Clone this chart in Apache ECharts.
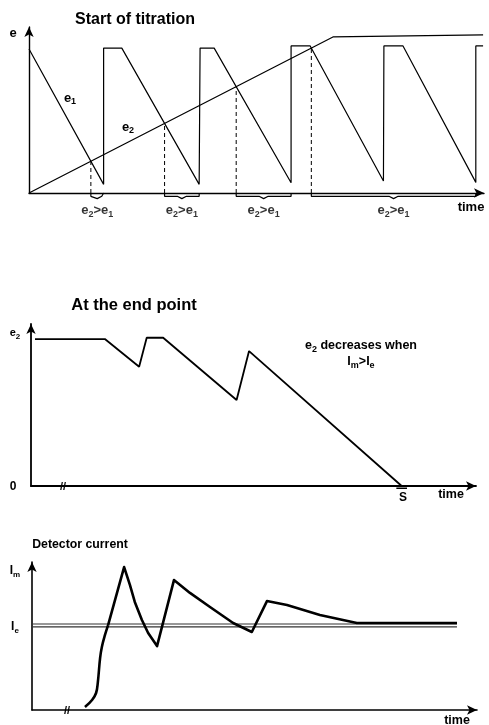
<!DOCTYPE html>
<html><head><meta charset="utf-8">
<script src="https://cdn.jsdelivr.net/npm/echarts@6/dist/echarts.min.js"></script>
<style>html,body{margin:0;padding:0;background:#fff}#c{width:489px;height:725px}</style>
</head><body><div id="c"></div>
<script>
// ---- Panel 1: Start of titration (arbitrary time / potential units)
const e1Time  = [0, 16.4, 16.4, 20.4, 37.4, 37.6, 40.7, 57.6, 57.6, 61.8, 77.9, 78.0, 82.2, 98.2, 98.2, 99.8];
const e1Value = [86.7, 5.2, 87.3, 87.3, 5.2, 87.3, 87.3, 6.2, 88.6, 88.6, 7.2, 88.6, 88.6, 6.4, 88.6, 88.6];
const e2Time  = [0, 66.8, 99.8];
const e2Value = [0, 94.0, 95.2];

// ---- Panel 2: At the end point
const endTime = [0.9, 16.6, 24.3, 26.0, 29.7, 46.2, 49.0, 83.3];
const endE2   = [90.7, 90.7, 73.6, 91.5, 91.5, 53.1, 83.3, 0];

// ---- Panel 3: Detector current
const curTime  = [11.9, 13.5, 14.4, 14.8, 15.3, 15.7, 16.4, 17.1, 20.7, 22.0, 23.1, 24.7, 26.1, 28.1, 31.9, 35.5, 40.0, 45.2, 49.4, 52.8, 57.3, 64.7, 73.0, 95.5];
const curValue = [2.0, 6.8, 11.5, 18.9, 35.1, 42.6, 50.7, 57.4, 96.6, 84.5, 73.0, 60.8, 52.0, 43.2, 87.8, 79.1, 69.6, 58.8, 52.7, 73.6, 70.9, 64.2, 58.8, 58.8];
const riseCount = 8; // points of the smooth initial rise
const ieLevels = [58.1, 56.1];
const ieEnd = 95.5;

const FONT = '"Liberation Sans", Arial, sans-serif';
const zip = (a, b) => a.map((v, i) => [v, b[i]]);

const e1 = zip(e1Time, e1Value), e2 = zip(e2Time, e2Value);
function e2At(x) {
  for (let j = 0; j < e2.length - 1; j++) {
    const [a, b] = [e2[j], e2[j + 1]];
    if (x >= a[0] && x <= b[0]) return a[1] + (b[1] - a[1]) * (x - a[0]) / (b[0] - a[0]);
  }
  return e2[e2.length - 1][1];
}
// intersections of e2 with descending parts of e1, and the span where e2 > e1
const cross = [];
let lastJump = 0;
for (let k = 0; k < e1.length - 1; k++) if (Math.abs(e1[k + 1][0] - e1[k][0]) < 0.5 && e1[k + 1][1] > e1[k][1]) lastJump = e1[k][0];
for (let i = 0; i < e1.length - 1; i++) {
  const [ax, ay] = e1[i], [bx, by] = e1[i + 1];
  if (bx - ax <= 0.5 || by >= ay) continue;
  for (let j = 0; j < e2.length - 1; j++) {
    const [cx, cy] = e2[j], [dx, dy] = e2[j + 1];
    const den = (bx - ax) * (dy - cy) - (by - ay) * (dx - cx);
    if (Math.abs(den) < 1e-9) continue;
    const t = ((cx - ax) * (dy - cy) - (cy - ay) * (dx - cx)) / den;
    const u = ((cx - ax) * (by - ay) - (cy - ay) * (bx - ax)) / den;
    if (t >= 0 && t <= 1 && u >= 0 && u <= 1) {
      let end = lastJump;
      for (let k = i + 1; k < e1.length - 1; k++) {
        if (Math.abs(e1[k + 1][0] - e1[k][0]) < 0.5 && e1[k + 1][1] > e2At(e1[k][0])) { end = e1[k][0]; break; }
      }
      cross.push({x: ax + t * (bx - ax), y: ay + t * (by - ay), end: end});
    }
  }
}

function axis(i, w) {
  return {
    type: 'value', gridIndex: i, min: 0, max: 100,
    axisLine: {show: true, onZero: false, symbol: ['none', 'arrow'], symbolSize: [7, 10],
      lineStyle: {color: '#000', width: w}},
    axisTick: {show: false}, axisLabel: {show: false}, splitLine: {show: false}
  };
}
const blk = (w, extra) => Object.assign({type: 'solid', color: '#000', width: w}, extra || {});
const rich = (size) => ({
  b: {fontFamily: FONT, fontWeight: 'bold', fontSize: size, lineHeight: size + 4, color: '#000'},
  s: {fontFamily: FONT, fontWeight: 'bold', fontSize: Math.round(size * 0.7), lineHeight: Math.round(size * 0.7), verticalAlign: 'bottom', color: '#000'}
});

const series = [];
series.push({type: 'line', xAxisIndex: 0, yAxisIndex: 0, data: e1, showSymbol: false, lineStyle: blk(1.2)});
series.push({type: 'line', xAxisIndex: 0, yAxisIndex: 0, data: e2, showSymbol: false, lineStyle: blk(1.2)});
cross.forEach(c => {
  series.push({type: 'line', xAxisIndex: 0, yAxisIndex: 0, data: [[c.x, 0], [c.x, c.y]], showSymbol: false,
    lineStyle: blk(1, {type: [4, 3]})});
  const m = (c.x + c.end) / 2;
  series.push({type: 'line', xAxisIndex: 0, yAxisIndex: 0, clip: false, showSymbol: false,
    data: [[c.x, 0], [c.x, -2], [m - 1, -2], [m, -3.4], [m + 1, -2], [c.end, -2], [c.end, 0]],
    lineStyle: blk(1.2)});
});
series.push({type: 'scatter', xAxisIndex: 0, yAxisIndex: 0, clip: false, symbolSize: 0,
  data: cross.map(c => [(c.x + c.end) / 2, -3.4]),
  label: {show: true, position: 'bottom', distance: 3, formatter: '{b|e}{s|2}{b|>e}{s|1}', rich: rich(13)}});

series.push({type: 'line', xAxisIndex: 1, yAxisIndex: 1, data: zip(endTime, endE2), showSymbol: false, lineStyle: blk(1.8)});
const sEnd = endTime[endTime.length - 1];
series.push({type: 'line', xAxisIndex: 1, yAxisIndex: 1, clip: false, showSymbol: false,
  data: [[sEnd - 1.2, -1.4], [sEnd + 1.2, -1.4]], lineStyle: blk(1.5)});

ieLevels.forEach(v => series.push({type: 'line', xAxisIndex: 2, yAxisIndex: 2, showSymbol: false,
  data: [[0, v], [ieEnd, v]], lineStyle: blk(1.2, {color: '#333'})}));
const cur = zip(curTime, curValue);
series.push({type: 'line', xAxisIndex: 2, yAxisIndex: 2, data: cur.slice(0, riseCount), smooth: 0.4, showSymbol: false,
  lineStyle: blk(2.6)});
series.push({type: 'line', xAxisIndex: 2, yAxisIndex: 2, data: cur.slice(riseCount - 1), showSymbol: false,
  lineStyle: blk(2.6, {join: 'round'})});

function txt(x, y, s, size) {
  return {type: 'text', x: x, y: y, z: 100, style: {text: s, fill: '#000',
    font: 'bold ' + size + 'px ' + FONT, align: 'center', verticalAlign: 'middle',
    textAlign: 'center', textVerticalAlign: 'middle', rich: rich(size)}};
}

const option = {
  animation: false,
  backgroundColor: '#fff',
  grid: [
    {left: 29, top: 27, width: 455, height: 166},
    {left: 31, top: 324, width: 445, height: 162},
    {left: 32, top: 562, width: 445, height: 148}
  ],
  xAxis: [axis(0, 1.4), axis(1, 1.8), axis(2, 1.6)],
  yAxis: [axis(0, 1.4), axis(1, 1.8), axis(2, 1.6)],
  series: series,
  graphic: [
    txt(135, 20, 'Start of titration', 16),
    txt(13, 33, 'e', 13),
    txt(70, 98, '{b|e}{s|1}', 13),
    txt(128, 127, '{b|e}{s|2}', 13),
    txt(471, 207, 'time', 13),

    txt(134, 305, 'At the end point', 16.5),
    txt(15, 333, '{b|e}{s|2}', 11),
    txt(13, 487, '0', 12),
    txt(361, 346, '{b|e}{s|2}{b| decreases when}', 12.5),
    txt(361, 362, '{b|I}{s|m}{b|>I}{s|e}', 12.5),
    txt(403, 498, 'S', 12),
    txt(451, 495, 'time', 12.5),
    txt(63, 487, '//', 11),

    txt(80, 545, 'Detector current', 12.3),
    txt(15, 571, '{b|I}{s|m}', 12),
    txt(15, 627, '{b|I}{s|e}', 12),
    txt(457, 721, 'time', 12.5),
    txt(67, 711, '//', 11)
  ]
};
const chart = echarts.init(document.getElementById('c'), null, {renderer: 'canvas'});
chart.setOption(option);
</script></body></html>
